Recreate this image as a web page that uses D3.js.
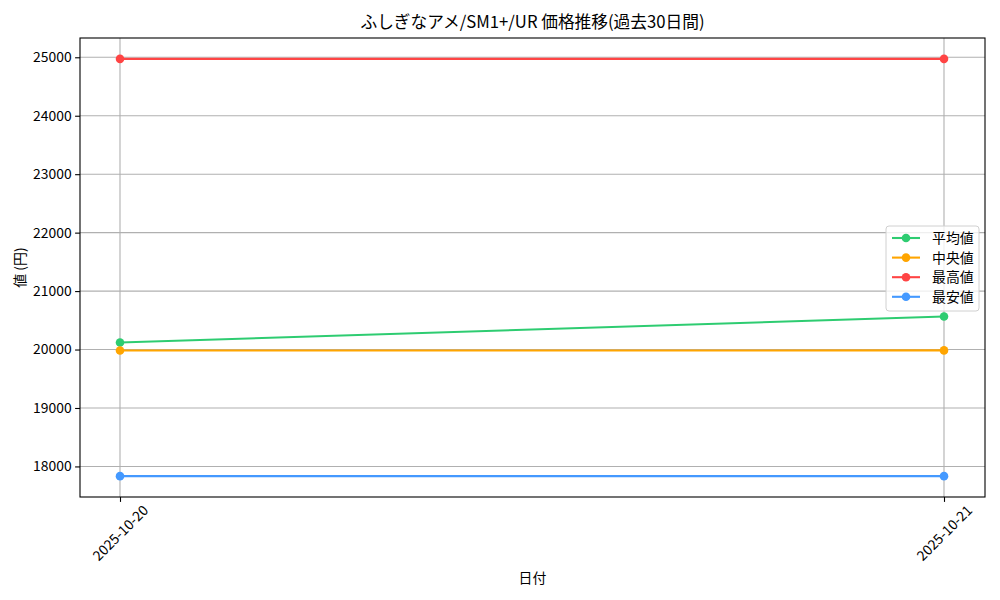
<!DOCTYPE html>
<html><head><meta charset="utf-8">
<script src="https://cdn.jsdelivr.net/npm/d3@7"></script>
<style>body{margin:0;background:#fff}svg{font-family:"Noto Sans CJK JP","DejaVu Sans",sans-serif}</style>
</head><body><svg id="c" width="1000" height="600"></svg>
<script>
const dates = ["2025-10-20", "2025-10-21"];
const seriesNames = ["平均値", "中央値", "最高値", "最安値"];
const seriesColors = ["#2ecc71", "#ffa500", "#ff4444", "#4499ff"];
const avgValues = [20120, 20564];
const medianValues = [19983, 19985];
const maxValues = [24973, 24973];
const minValues = [17834, 17834];
const yTicks = [18000, 19000, 20000, 21000, 22000, 23000, 24000, 25000];

const series = [avgValues, medianValues, maxValues, minValues];
const svg = d3.select("#c");
const L = 80, R = 985, T = 38, B = 497;

const x = d3.scalePoint().domain(dates).range([120, 944]);
const allV = series.flat();
const mn = d3.min(allV), mx = d3.max(allV), pad = (mx - mn) * 0.05;
const y = d3.scaleLinear().domain([mn - pad, mx + pad]).range([B, T]);

// grid
const g = svg.append("g");
g.selectAll(".gy").data(yTicks).join("line")
  .attr("x1", L).attr("x2", R).attr("y1", d => y(d)).attr("y2", d => y(d))
  .attr("stroke", "#b0b0b0").attr("stroke-width", 1.1);
g.selectAll(".gx").data(dates).join("line")
  .attr("x1", d => x(d)).attr("x2", d => x(d)).attr("y1", T).attr("y2", B)
  .attr("stroke", "#b0b0b0").attr("stroke-width", 1.1);

// axes
const ya = svg.append("g").attr("transform", `translate(${L},0)`)
  .call(d3.axisLeft(y).tickValues(yTicks).tickFormat(d3.format("d")).tickSize(4.9).tickPadding(3.5));
const xa = svg.append("g").attr("transform", `translate(0,${B})`)
  .call(d3.axisBottom(x).tickSize(4.9).tickPadding(3.5));
[ya, xa].forEach(a => {
  a.select(".domain").remove();
  a.selectAll(".tick line").attr("stroke", "#000").attr("stroke-width", 1.1);
  a.selectAll("text").attr("font-size", 13.9).attr("fill", "#000")
    .attr("font-family", "'Noto Sans CJK JP', sans-serif");
});
xa.selectAll(".tick text")
  .attr("text-anchor", "middle").attr("y", 0).attr("dy", "0.35em")
  .attr("transform", "translate(0,36) rotate(-45)");

// series
series.forEach((vals, i) => {
  const pts = dates.map((d, j) => [x(d), y(vals[j])]);
  svg.append("path").attr("d", d3.line()(pts)).attr("fill", "none")
    .attr("stroke", seriesColors[i]).attr("stroke-width", 2.1);
  svg.selectAll(null).data(pts).join("circle")
    .attr("cx", d => d[0]).attr("cy", d => d[1]).attr("r", 4.3).attr("fill", seriesColors[i]);
});

// frame
svg.append("rect").attr("x", L).attr("y", T).attr("width", R - L).attr("height", B - T)
  .attr("fill", "none").attr("stroke", "#000").attr("stroke-width", 1.1);

// title & labels
svg.append("text").attr("x", (L + R) / 2).attr("y", 28).attr("text-anchor", "middle")
  .attr("font-size", 16.7).text("ふしぎなアメ/SM1+/UR 価格推移(過去30日間)");
svg.append("text").attr("x", (L + R) / 2).attr("y", 583).attr("text-anchor", "middle")
  .attr("font-size", 13.9).text("日付");
svg.append("text").attr("transform", `translate(25,${(T + B) / 2}) rotate(-90)`)
  .attr("text-anchor", "middle").attr("font-size", 13.9).text("値 (円)");

// legend
const lg = svg.append("g").attr("transform", "translate(886,226)");
lg.append("rect").attr("width", 93).attr("height", 85).attr("rx", 3)
  .attr("fill", "#fff").attr("fill-opacity", 0.8).attr("stroke", "#d0d0d0");
seriesNames.forEach((n, i) => {
  const yy = 12 + i * 19.6;
  lg.append("line").attr("x1", 6).attr("x2", 34).attr("y1", yy).attr("y2", yy)
    .attr("stroke", seriesColors[i]).attr("stroke-width", 2.1);
  lg.append("circle").attr("cx", 20).attr("cy", yy).attr("r", 4.3).attr("fill", seriesColors[i]);
  lg.append("text").attr("x", 46).attr("y", yy + 5).attr("font-size", 13.9).text(n);
});
</script></body></html>
